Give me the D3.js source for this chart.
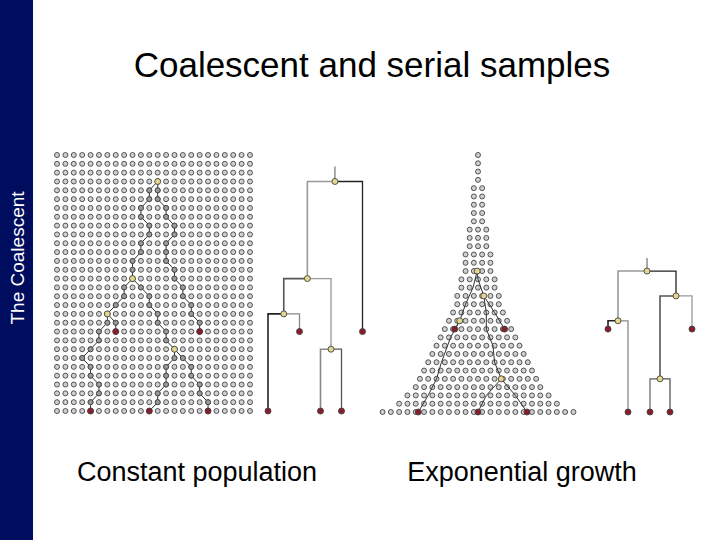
<!DOCTYPE html>
<html><head><meta charset="utf-8">
<script src="https://cdn.jsdelivr.net/npm/d3@7"></script>
<style>body{margin:0;background:#fff}svg{display:block}</style>
</head><body>
<svg id="chart" width="720" height="540"></svg>
<script>
// Data
const titleText = "Coalescent and serial samples"
const sideText = "The Coalescent"
const panelLabels = ["Constant population", "Exponential growth"]

// Constant population grid
const gridCols = 24
const gridRows = 30
// lineages: [col,row] steps, sample -> parent
const constLineages = [
  [[4,29],[4,28],[5,27],[5,26],[4,25],[4,24],[3,23],[4,22],[5,21],[5,20],[6,19],[6,18]],
  [[7,20],[7,19],[6,18]],
  [[6,18],[7,17],[8,16],[8,15],[9,14]],
  [[11,29],[12,28],[12,27],[13,26],[13,25],[13,24],[14,23],[14,22]],
  [[18,29],[18,28],[17,27],[17,26],[16,25],[16,24],[15,23],[14,22]],
  [[14,22],[13,21],[13,20],[12,19],[12,18],[11,17],[11,16],[10,15],[9,14]],
  [[9,14],[9,13],[9,12],[10,11],[10,10],[11,9],[11,8],[10,7],[10,6],[11,5],[11,4],[12,3]],
  [[17,20],[17,19],[16,18],[16,17],[15,16],[15,15],[14,14],[14,13],[13,12],[13,11],[13,10],[14,9],[14,8],[13,7],[13,6],[12,5],[12,4],[12,3]]
]
const constSamples = [[4,29],[11,29],[18,29],[7,20],[17,20]]
const constNodes = [[12,3],[9,14],[6,18],[14,22]]
// genealogy: leaves (position, row) and merges
const constLeaves = [{p:0,t:29},{p:1.5,t:20},{p:2.5,t:29},{p:3.5,t:29},{p:4.5,t:20}]
const constMerges = [[0,1,18],[2,3,22],[5,6,14],[7,4,3]]

// Exponential growth triangle
const rowCounts = [1,1,1,1,2,2,2,2,2,3,3,3,4,4,4,5,5,6,6,7,8,9,10,11,12,13,14,15,16,18,20,24]
const expSamples = [[-2.8,21],[3.2,21],[-7.2,31],[0,31],[5.9,31]]
const expNodes = [[-0.1,14],[0.7,17],[-2.2,20],[2.8,27]]
const expLinks = [
  [[-2.8,21],[-2.2,20]], [[-7.2,31],[-6,29],[-5,27],[-4.4,25],[-3.3,22],[-2.2,20]],
  [[0,31],[1,29],[2.8,27]], [[5.9,31],[4.5,29],[2.8,27]],
  [[2.8,27],[2,25],[1.8,23],[1,21],[1,19],[0.7,17]], [[3.2,21],[2,19],[0.7,17]],
  [[-2.2,20],[-1.5,18],[-0.6,16],[-0.1,14]], [[0.7,17],[0,15],[-0.1,14]]
]
const expLeaves = [{p:0,t:21},{p:1,t:31},{p:2.1,t:31},{p:3.1,t:31},{p:4.2,t:21}]
const expMerges = [[0,1,20],[2,3,27],[6,4,17],[5,7,14]]

const svg = d3.select("#chart")
const navy = "#000d5e"
const redFill = "#8a1c2c"
const yellowFill = "#e6d68c"

// Sidebar
svg.append("rect").attr("x", 0).attr("y", 0).attr("width", 33).attr("height", 540).attr("fill", navy)
svg.append("text")
  .attr("transform", "translate(24,258) rotate(-90)")
  .attr("text-anchor", "middle")
  .style("font-family", "Liberation Sans, Arial").style("font-size", "19px")
  .attr("fill", "#fff").text(sideText)

svg.append("text").attr("x", 372).attr("y", 77).attr("text-anchor", "middle")
  .style("font-family", "Liberation Sans, Arial").style("font-size", "35px")
  .attr("fill", "#000").text(titleText)

panelLabels.forEach(function(l, i) {
  svg.append("text").attr("x", [197, 522][i]).attr("y", 481).attr("text-anchor", "middle")
    .style("font-family", "Liberation Sans, Arial").style("font-size", "27px")
    .attr("fill", "#000").text(l)
})

function dot(g, x, y, fill, r) {
  g.append("circle").attr("cx", x).attr("cy", y).attr("r", r || 2.5)
    .attr("fill", fill).attr("stroke", "#444").attr("stroke-width", 0.9)
}

// Constant grid scales
const cx = d3.scaleLinear().domain([0, gridCols - 1]).range([57, 250])
const cy = d3.scaleLinear().domain([0, gridRows - 1]).range([155, 411])
const gConst = svg.append("g")
for (let r = 0; r < gridRows; r++) {
  for (let c = 0; c < gridCols; c++) dot(gConst, cx(c), cy(r), "#cfcfd4")
}
const lineC = d3.line().x(function(d) { return cx(d[0]) }).y(function(d) { return cy(d[1]) })
constLineages.forEach(function(l) {
  gConst.append("path").attr("d", lineC(l)).attr("fill", "none").attr("stroke", "#333").attr("stroke-width", 1)
})
constLineages.forEach(function(l) { l.forEach(function(p) { dot(gConst, cx(p[0]), cy(p[1]), "#9a9aa0") }) })
constNodes.forEach(function(p) { dot(gConst, cx(p[0]), cy(p[1]), yellowFill, 3) })
constSamples.forEach(function(p) { dot(gConst, cx(p[0]), cy(p[1]), redFill, 3) })

// Triangle
const ex = d3.scaleLinear().domain([-1, 1]).range([478 - 8.3, 478 + 8.3])
const ey = d3.scaleLinear().domain([0, rowCounts.length - 1]).range([155, 412])
const gExp = svg.append("g")
rowCounts.forEach(function(n, r) {
  for (let j = 0; j < n; j++) dot(gExp, ex(j - (n - 1) / 2), ey(r), "#cfcfd4")
})
const lineE = d3.line().x(function(d) { return ex(d[0]) }).y(function(d) { return ey(d[1]) })
expLinks.forEach(function(l) {
  gExp.append("path").attr("d", lineE(l)).attr("fill", "none").attr("stroke", "#333").attr("stroke-width", 1)
})
expNodes.forEach(function(p) { dot(gExp, ex(p[0]), ey(p[1]), yellowFill, 3) })
expSamples.forEach(function(p) { dot(gExp, ex(p[0]), ey(p[1]), redFill, 3) })

// Genealogies
function drawTree(leaves, merges, xs, ys, stem) {
  const g = svg.append("g")
  const nodes = leaves.map(function(d) { return {x: xs(d.p), t: d.t} })
  const colors = ["#222", "#888", "#555", "#999"]
  merges.forEach(function(m, i) {
    const a = nodes[m[0]], b = nodes[m[1]]
    const n = {x: (a.x + b.x) / 2, t: m[2]}
    nodes.push(n)
    ;[a, b].forEach(function(ch, k) {
      g.append("path")
        .attr("d", d3.line()([[ch.x, ys(ch.t)], [ch.x, ys(n.t)], [n.x, ys(n.t)]]))
        .attr("fill", "none").attr("stroke", colors[(i + k) % 4]).attr("stroke-width", k ? 1.3 : 1.6)
    })
  })
  const root = nodes[nodes.length - 1]
  g.append("line").attr("x1", root.x).attr("x2", root.x)
    .attr("y1", ys(root.t)).attr("y2", ys(root.t) - stem).attr("stroke", "#555")
  nodes.forEach(function(n, i) {
    dot(g, n.x, ys(n.t), i < leaves.length ? redFill : yellowFill, 3)
  })
}
drawTree(constLeaves, constMerges, d3.scaleLinear().domain([0, 1]).range([268, 289]), cy, 15)
drawTree(expLeaves, expMerges, d3.scaleLinear().domain([0, 1]).range([608, 628]), ey, 13)
</script>
</body></html>
